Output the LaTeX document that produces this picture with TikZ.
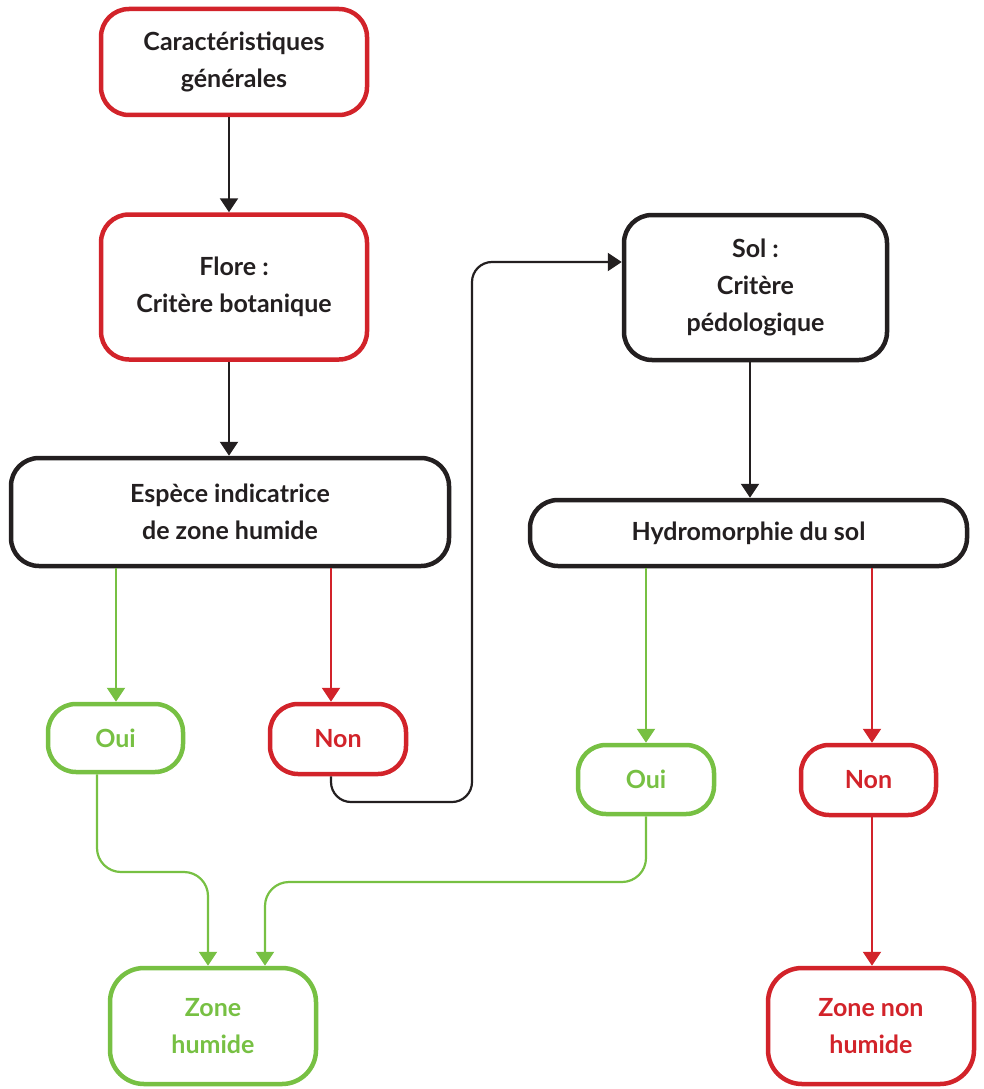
\documentclass[tikz,border=0pt]{standalone}
\usepackage{fontspec}
\setmainfont{Lato}
\usetikzlibrary{arrows.meta,calc}
\definecolor{cred}{HTML}{D2232A}
\definecolor{cgreen}{HTML}{77C043}
\definecolor{cblack}{HTML}{231F20}
\tikzset{
  box/.style={draw=#1, text=cblack, line width=4.5pt, rounded corners=28pt, align=center,
    font=\fontsize{25}{37}\selectfont\bfseries, inner sep=0pt},
  gbox/.style={box=cgreen, text=cgreen},
  rbox/.style={box=cred, text=cred},
  conn/.style={draw=#1, line width=2.2pt, -{Triangle[width=18pt,length=14pt]}},
}
\begin{document}
\begin{tikzpicture}[x=1pt,y=-1pt]
\useasboundingbox (0,0) rectangle (984,1089);
\node[box=cred, minimum width=266pt, minimum height=106pt] (car) at (234,62) {Caractéristiques\\générales};
\node[box=cred, minimum width=266pt, minimum height=145pt] (flo) at (234,287) {Flore :\\Critère botanique};
\node[box=cblack, minimum width=438pt, minimum height=108pt] (esp) at (230,512) {Espèce indicatrice\\de zone humide};
\node[gbox, minimum width=135pt, minimum height=68pt] (ouiL) at (115.5,738) {Oui};
\node[rbox, minimum width=136pt, minimum height=70pt] (nonL) at (338,739) {Non};
\node[box=cblack, minimum width=263pt, minimum height=145pt] (sol) at (755.5,287.5) {Sol :\\Critère\\pédologique};
\node[box=cblack, minimum width=437pt, minimum height=66pt] (hyd) at (748.5,533) {Hydromorphie du sol};
\node[gbox, minimum width=136pt, minimum height=69pt] (ouiR) at (646,779.5) {Oui};
\node[rbox, minimum width=135pt, minimum height=70pt] (nonR) at (868.5,780) {Non};
\node[gbox, rounded corners=34pt, minimum width=206pt, minimum height=116pt] (zh) at (213,1026) {Zone\\humide};
\node[rbox, rounded corners=34pt, minimum width=206pt, minimum height=116pt] (znh) at (871,1026) {Zone non\\humide};

\draw[conn=cblack] (229,0 |- car.south) -- (229,0 |- flo.north);
\draw[conn=cblack] (229,0 |- flo.south) -- (229,0 |- esp.north);
\draw[conn=cgreen] (116,0 |- esp.south) -- (116,0 |- ouiL.north);
\draw[conn=cred] (331,0 |- esp.south) -- (331,0 |- nonL.north);
\draw[conn=cblack, rounded corners=20pt] (331,0 |- nonL.south) -- (331,802) -- (472,802) -- (472,262) -- (sol.west |- 0,262);
\draw[conn=cblack] (750,0 |- sol.south) -- (750,0 |- hyd.north);
\draw[conn=cgreen] (646,0 |- hyd.south) -- (646,0 |- ouiR.north);
\draw[conn=cred] (872,0 |- hyd.south) -- (872,0 |- nonR.north);
\draw[conn=cgreen, rounded corners=24pt] (97,0 |- ouiL.south) -- (97,872) -- (208,872) -- (208,0 |- zh.north);
\draw[conn=cgreen, rounded corners=24pt] (646,0 |- ouiR.south) -- (646,882) -- (265,882) -- (265,0 |- zh.north);
\draw[conn=cred] (872,0 |- nonR.south) -- (872,0 |- znh.north);
\end{tikzpicture}
\end{document}
